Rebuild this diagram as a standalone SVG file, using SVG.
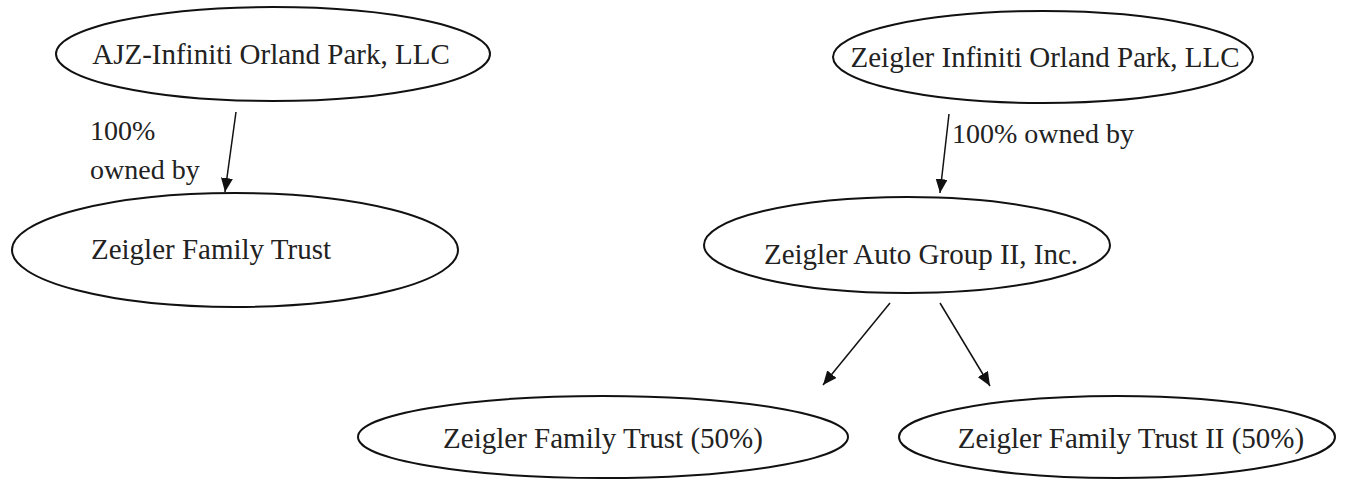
<svg xmlns="http://www.w3.org/2000/svg" width="1345" height="488" viewBox="0 0 1345 488">
<defs>
<marker id="ah" viewBox="0 0 14 12" refX="14" refY="6" markerWidth="14" markerHeight="12" markerUnits="userSpaceOnUse" orient="auto">
<path d="M0,0 L14,6 L0,12 z" fill="#111"/>
</marker>
<style>
.n ellipse{fill:#fff;stroke:#111;stroke-width:2}
.n text{font-family:"Liberation Serif","Times New Roman",serif;font-size:29px;fill:#222;text-anchor:middle}
.lbl{font-family:"Liberation Serif","Times New Roman",serif;font-size:28px;fill:#222}
.c line{stroke:#111;stroke-width:1.5;marker-end:url(#ah)}
</style>
</defs>
<rect width="1345" height="488" fill="#fff"/>
<g id="ajz" class="n"><ellipse cx="273" cy="54" rx="217" ry="47"/><text x="271" y="64">AJZ-Infiniti Orland Park, LLC</text></g>
<g id="zft1" class="n"><ellipse cx="235" cy="250" rx="223" ry="57"/><text x="211" y="259">Zeigler Family Trust</text></g>
<g id="zio" class="n"><ellipse cx="1043" cy="57" rx="210" ry="46"/><text x="1045" y="67">Zeigler Infiniti Orland Park, LLC</text></g>
<g id="zag" class="n"><ellipse cx="907" cy="245" rx="203" ry="48"/><text x="921" y="264">Zeigler Auto Group II, Inc.</text></g>
<g id="zft50" class="n"><ellipse cx="603" cy="437" rx="245" ry="41"/><text x="603" y="448">Zeigler Family Trust (50%)</text></g>
<g id="zft2" class="n"><ellipse cx="1117" cy="437" rx="218" ry="41"/><text x="1131" y="448">Zeigler Family Trust II (50%)</text></g>
<g id="connectors" class="c">
<line x1="236" y1="112" x2="225" y2="192"/>
<line x1="949" y1="114" x2="940" y2="193"/>
<line x1="890" y1="303" x2="823" y2="385"/>
<line x1="940" y1="303" x2="990" y2="386"/>
</g>
<g id="labels">
<text class="lbl" x="90" y="140">100%</text>
<text class="lbl" x="90" y="179">owned by</text>
<text class="lbl" x="952" y="143">100% owned by</text>
</g>
</svg>
